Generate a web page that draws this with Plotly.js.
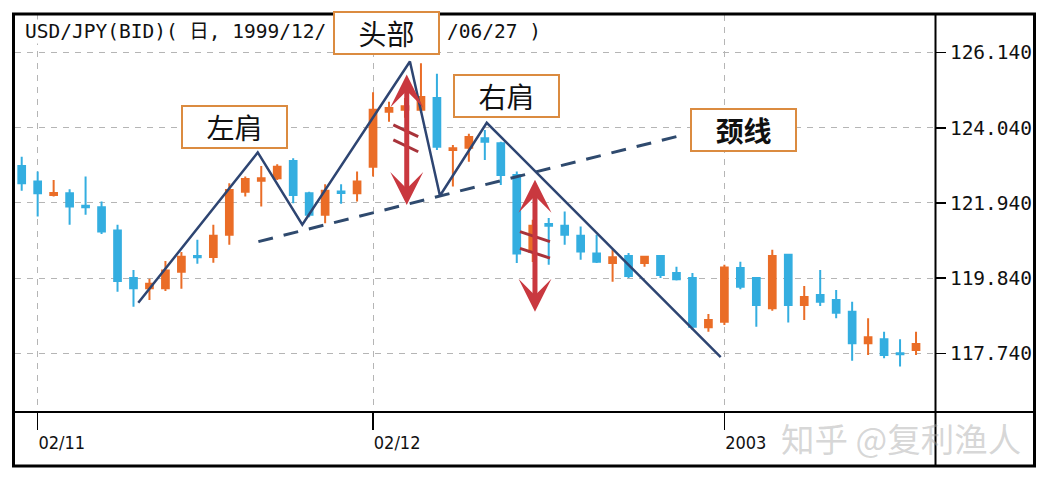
<!DOCTYPE html>
<html>
<head>
<meta charset="utf-8">
<script src="https://cdn.plot.ly/plotly-3.0.1.min.js"></script>
<style>
  html, body { margin: 0; padding: 0; background: #ffffff; }
  #chart { width: 1050px; height: 482px; }
</style>
</head>
<body>
<div id="chart"></div>
<script>
// ---------------- data ----------------
const dates = [
  '2002-10-31','2002-11-01','2002-11-04','2002-11-05','2002-11-06','2002-11-07','2002-11-08',
  '2002-11-11','2002-11-12','2002-11-13','2002-11-14','2002-11-15',
  '2002-11-18','2002-11-19','2002-11-20','2002-11-21','2002-11-22',
  '2002-11-25','2002-11-26','2002-11-27','2002-11-28','2002-11-29',
  '2002-12-02','2002-12-03','2002-12-04','2002-12-05','2002-12-06',
  '2002-12-09','2002-12-10','2002-12-11','2002-12-12','2002-12-13',
  '2002-12-16','2002-12-17','2002-12-18','2002-12-19','2002-12-20',
  '2002-12-23','2002-12-24','2002-12-25','2002-12-26','2002-12-27',
  '2002-12-30','2002-12-31','2003-01-01','2003-01-02','2003-01-03',
  '2003-01-06','2003-01-07','2003-01-08','2003-01-09','2003-01-10',
  '2003-01-13','2003-01-14','2003-01-15','2003-01-16','2003-01-17'
];
const openP = [122.97,122.54,122.16,122.21,121.86,121.82,121.17,119.84,119.56,119.56,120.02,120.46,
  120.43,121.05,122.25,122.56,122.63,123.11,122.21,121.61,122.26,122.21,
  122.95,124.49,124.54,124.54,124.87,123.42,123.48,123.75,123.61,122.72,
  120.57,121.35,121.30,121.02,120.53,120.26,120.46,120.26,120.46,119.98,
  119.84,118.47,118.62,120.12,119.84,119.00,120.49,119.09,119.37,119.23,
  118.90,118.02,118.13,117.74,117.83];
const highP = [123.23,122.82,122.58,122.32,122.68,121.98,121.33,120.07,119.82,120.32,120.57,120.91,
  121.33,122.49,122.68,122.97,123.02,123.19,122.25,122.46,122.46,122.82,
  125.03,124.77,124.87,125.84,125.55,123.56,123.87,123.98,123.65,122.82,
  121.47,121.52,121.70,121.28,121.05,120.63,120.54,120.46,120.48,120.16,
  119.98,118.84,120.21,120.30,119.86,120.63,120.52,119.62,120.07,119.51,
  119.18,118.72,118.34,118.13,118.34];
const lowP = [122.28,121.56,122.12,121.33,121.61,121.07,119.46,119.04,119.23,119.48,119.54,120.24,
  120.27,120.77,122.12,121.84,122.58,121.93,121.54,121.37,121.92,121.98,
  122.68,124.21,124.32,124.46,123.42,122.40,123.09,123.14,122.44,120.26,
  120.29,120.21,120.77,120.35,120.26,119.74,119.84,120.16,119.84,119.77,
  118.39,118.34,118.53,119.53,118.48,118.93,118.60,118.67,119.06,118.72,
  117.53,117.69,117.60,117.37,117.69];
const closeP = [122.49,122.21,122.22,121.84,121.82,121.14,119.76,119.56,119.68,120.05,120.44,120.42,
  121.02,122.30,122.61,122.63,122.95,122.16,121.61,122.28,122.22,122.54,
  124.54,124.59,124.64,124.90,123.51,123.47,123.78,123.65,122.72,120.53,
  121.30,121.30,121.05,120.58,120.30,120.42,119.90,120.44,119.93,119.81,
  118.48,118.67,120.14,119.60,119.09,120.46,119.09,119.31,119.18,118.87,
  118.02,118.19,117.69,117.71,118.00];

const priceTicks = [117.74, 119.84, 121.94, 124.04, 126.14];
const priceTickText = ['117.740','119.840','121.940','124.040','126.140'];
const dateTickDates = ['2002-11-01','2002-12-02','2003-01-01'];
const dateTickText = ['02/11','02/12','2003'];

// head & shoulders outline (day index, price)
const patternX = [7.30, 14.78, 17.57, 24.31, 26.19, 29.12, 43.77];
const patternY = [119.15, 123.35, 121.33, 125.89, 122.14, 124.18, 117.63];
// neckline
const neckX = [14.82, 41.41];
const neckY = [120.86, 123.84];
// measurement arrows: [x, top, bottom]
const arrowX = [24.11, 32.14];
const arrowTop = [125.57, 122.63];
const arrowBottom = [121.88, 118.90];
// tick marks on arrows
const slashX0 = [23.27, 23.27, 31.20, 31.20];
const slashX1 = [24.83, 24.83, 33.08, 33.08];
const slashY0 = [124.12, 123.70, 121.14, 120.67];
const slashY1 = [123.79, 123.37, 120.86, 120.40];
// labels
const labelText = ['左肩', '头部', '右肩', '<b>颈线</b>'];
const labelX = [13.34, 22.84, 30.37, 45.17];
const labelY = [124.07, 126.68, 124.94, 123.98];

// title (middle part is hidden behind the 头部 box in the reference)
const titleLeft = 'USD/JPY(BID)( 日, 1999/12/';
const titleRight = '/06/27 )';
const watermark = '知乎 @复利渔人';

// ---------------- layout helpers ----------------
const W = 1050, H = 482;
const M = {l: 15, r: 115, t: 15, b: 70};
const PW = W - M.l - M.r, PH = H - M.t - M.b;
const px = v => (v - M.l) / PW;
const py = v => (H - M.b - v) / PH;

const dayIdx = dates.map((d, i) => i);
const tickIdx = dateTickDates.map(d => dates.indexOf(d));

const UP = '#EA6D27', DOWN = '#34AEE0';

const traces = [
  {
    type: 'candlestick',
    x: dayIdx, open: openP, high: highP, low: lowP, close: closeP,
    increasing: {line: {color: UP, width: 2}, fillcolor: UP},
    decreasing: {line: {color: DOWN, width: 2}, fillcolor: DOWN},
    whiskerwidth: 0,
    hoverinfo: 'skip',
    showlegend: false
  },
  {
    type: 'scatter', mode: 'lines',
    x: neckX, y: neckY,
    line: {color: '#2F4A6E', width: 3, dash: '15px,11px'},
    hoverinfo: 'skip', showlegend: false
  },
  {
    type: 'scatter', mode: 'lines',
    x: patternX, y: patternY,
    line: {color: '#2E4572', width: 2.5},
    hoverinfo: 'skip', showlegend: false
  }
];

const shapes = [];
for (let i = 0; i < slashX0.length; i++) {
  shapes.push({type: 'line', xref: 'x', yref: 'y',
    x0: slashX0[i], x1: slashX1[i], y0: slashY0[i], y1: slashY1[i],
    line: {color: '#A8333A', width: 3}, layer: 'above'});
}
// frame
shapes.push({type: 'rect', xref: 'paper', yref: 'paper',
  x0: px(13.5), x1: px(1034.5), y0: py(466), y1: py(14),
  line: {color: '#000', width: 3}, layer: 'above'});
shapes.push({type: 'line', xref: 'paper', yref: 'paper',
  x0: px(935.5), x1: px(935.5), y0: py(466), y1: py(14),
  line: {color: '#000', width: 2}, layer: 'above'});
shapes.push({type: 'line', xref: 'paper', yref: 'paper',
  x0: px(13.5), x1: px(1034.5), y0: py(412), y1: py(412),
  line: {color: '#000', width: 2}, layer: 'above'});

const titleFont = {family: 'DejaVu Sans Mono, Noto Sans CJK JP', size: 19.5, color: '#111'};
const annotations = [];
annotations.push({xref: 'paper', yref: 'paper', x: px(24), y: py(31),
  xanchor: 'left', yanchor: 'middle', showarrow: false, text: titleLeft,
  bgcolor: '#ffffff', borderpad: 0, font: titleFont});
annotations.push({xref: 'paper', yref: 'paper', x: px(446), y: py(31),
  xanchor: 'left', yanchor: 'middle', showarrow: false, text: titleRight,
  bgcolor: '#ffffff', borderpad: 0, font: titleFont});
for (let i = 0; i < arrowX.length; i++) {
  annotations.push({xref: 'x', yref: 'y', axref: 'x', ayref: 'y',
    x: arrowX[i], y: arrowBottom[i], ax: arrowX[i], ay: arrowTop[i],
    text: '', showarrow: true, arrowside: 'end+start',
    arrowhead: 3, startarrowhead: 3, arrowsize: 1.1, startarrowsize: 1.1,
    arrowwidth: 5, arrowcolor: '#C9383F', standoff: 0, startstandoff: 0});
}
for (let i = 0; i < labelText.length; i++) {
  annotations.push({xref: 'x', yref: 'y', x: labelX[i], y: labelY[i],
    xanchor: 'center', yanchor: 'middle', showarrow: false,
    text: labelText[i], width: 101, height: 38, borderpad: 1,
    bgcolor: '#ffffff', bordercolor: '#DB8B40', borderwidth: 2,
    font: {family: 'Noto Sans CJK SC', size: 28, color: '#111'}});
}
annotations.push({xref: 'paper', yref: 'paper', x: px(779), y: py(437),
  xanchor: 'left', yanchor: 'middle', showarrow: false, text: watermark,
  font: {family: 'Noto Sans CJK SC', size: 33.5, color: 'rgba(165,165,165,0.45)'}});

const layout = {
  width: W, height: H,
  margin: M,
  paper_bgcolor: '#ffffff', plot_bgcolor: '#ffffff',
  showlegend: false,
  boxgap: 0.4,
  xaxis: {
    range: [(15 - 21.7) / 15.97, (935 - 21.7) / 15.97],
    rangeslider: {visible: false},
    tickvals: tickIdx, ticktext: dateTickText,
    ticks: 'outside', ticklen: 17, tickwidth: 1.5, tickcolor: '#000',
    ticklabelposition: 'outside right',
    ticklabelstandoff: 14,
    tickfont: {family: 'DejaVu Sans Condensed', size: 18, color: '#111'},
    showgrid: true, gridcolor: '#b5b5b5', gridwidth: 1, griddash: '6px,6px',
    zeroline: false, showline: false, fixedrange: true
  },
  yaxis: {
    side: 'right',
    range: [116.10, 127.19],
    tickvals: priceTicks, ticktext: priceTickText,
    ticks: 'outside', ticklen: 10, tickwidth: 1.5, tickcolor: '#000',
    tickfont: {family: 'DejaVu Sans Mono', size: 19.5, color: '#111'},
    showgrid: true, gridcolor: '#b5b5b5', gridwidth: 1, griddash: '6px,6px',
    zeroline: false, showline: false, fixedrange: true
  },
  shapes: shapes,
  annotations: annotations
};

Plotly.newPlot('chart', traces, layout, {displayModeBar: false, staticPlot: true});
</script>
</body>
</html>
